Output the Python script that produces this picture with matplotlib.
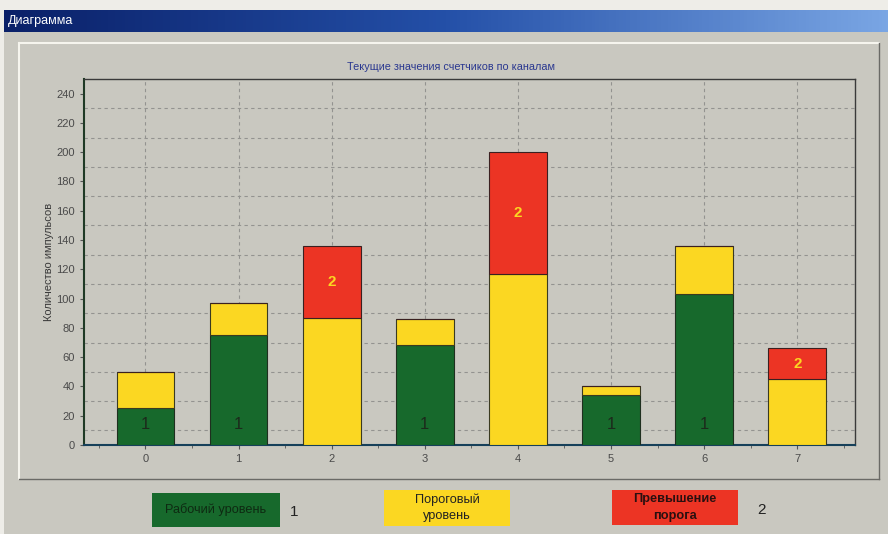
import matplotlib.pyplot as plt
import numpy as np
from matplotlib.patches import Rectangle
from matplotlib.ticker import MultipleLocator
from matplotlib.colors import LinearSegmentedColormap

channels = ['0', '1', '2', '3', '4', '5', '6', '7']
working = [25, 75, 0, 68, 0, 34, 103, 0]
threshold = [25, 22, 87, 18, 117, 6, 33, 45]
over = [0, 0, 49, 0, 83, 0, 0, 21]

legend_labels = ['Рабочий уровень', 'Пороговый\nуровень', 'Превышение\nпорога']

plt.rcParams['font.family'] = ['Liberation Sans', 'DejaVu Sans']

W, H = 888, 534
bg = '#c9c8c0'
green = '#17692c'
yellow = '#fbd722'
red = '#ec3424'


def fx(px):
    return px / W


def fy(py):
    return 1 - py / H


fig = plt.figure(figsize=(W / 100, H / 100), dpi=100)
fig.patch.set_facecolor(bg)

# light strips at window top and left
fig.patches.append(Rectangle((0, fy(10)), 1, 10 / H, transform=fig.transFigure,
                             facecolor='#eeede8', edgecolor='none', zorder=-5))
fig.patches.append(Rectangle((0, 0), fx(4), 1, transform=fig.transFigure,
                             facecolor='#eeede8', edgecolor='none', zorder=-5))

# title bar with gradient
tb = fig.add_axes([fx(4), fy(32), 1 - fx(4), (32 - 10) / H])
grad = np.linspace(0, 1, 256).reshape(1, -1)
cm = LinearSegmentedColormap.from_list('tb', ['#0a2068', '#2450a8', '#7aa6e4'])
tb.imshow(grad, aspect='auto', cmap=cm, extent=[0, 1, 0, 1])
tb.set_axis_off()
tb.text(0.004, 0.5, 'Диаграмма', color='white', fontsize=9, va='center', ha='left',
        transform=tb.transAxes)

# inner panel border
fig.add_artist(plt.Line2D([fx(19), fx(879)], [fy(43), fy(43)], color='#f6f5ee', lw=1.5))
fig.add_artist(plt.Line2D([fx(19), fx(19)], [fy(43), fy(479)], color='#f6f5ee', lw=1.5))
fig.add_artist(plt.Line2D([fx(879), fx(879)], [fy(43), fy(479)], color='#6a6a66', lw=1))
fig.add_artist(plt.Line2D([fx(19), fx(879)], [fy(479), fy(479)], color='#6a6a66', lw=1))

# main chart
ax = fig.add_axes([fx(84), fy(445), fx(855 - 84), (445 - 79) / H])
ax.set_facecolor(bg)
x = np.arange(len(channels))
w = 0.62
ax.bar(x, working, w, color=green, edgecolor='#1f2f1f', linewidth=0.8, zorder=3)
ax.bar(x, threshold, w, bottom=working, color=yellow, edgecolor='#3a3a20', linewidth=0.8, zorder=3)
bottoms = np.array(working) + np.array(threshold)
ax.bar(x, over, w, bottom=bottoms, color=red, edgecolor='#3a2020', linewidth=0.8, zorder=3)

for i in range(len(channels)):
    if working[i] > 0:
        ax.text(x[i], 14, '1', ha='center', va='center', fontsize=12, color='#1c2a1c', zorder=4)
    if over[i] > 0:
        ax.text(x[i], bottoms[i] + over[i] / 2, '2', ha='center', va='center', fontsize=11,
                color=yellow, fontweight='bold', zorder=4)

ax.set_xlim(-0.66, 7.62)
ax.set_ylim(0, 250)
ax.set_xticks(x)
ax.set_xticklabels(channels)
ax.xaxis.set_minor_locator(MultipleLocator(0.5))
ax.yaxis.set_major_locator(MultipleLocator(20))
ax.set_yticks(np.arange(10, 240, 20), minor=True)
ax.tick_params(axis='both', which='major', labelsize=8, labelcolor='#4a4a4a', color='#555555',
               length=3)
ax.tick_params(axis='x', which='minor', length=2, color='#555555')
ax.tick_params(axis='y', which='minor', length=0)
ax.grid(True, axis='x', which='major', linestyle=(0, (3, 3)), color='#939390', lw=0.8, zorder=1)
ax.grid(True, axis='y', which='minor', linestyle=(0, (3, 3)), color='#939390', lw=0.8, zorder=1)
ax.grid(False, axis='y', which='major')
for s in ['top', 'right']:
    ax.spines[s].set_color('#3a3a3a')
    ax.spines[s].set_linewidth(1)
ax.spines['left'].set_color('#1f3a25')
ax.spines['left'].set_linewidth(1.5)
ax.spines['bottom'].set_color('#16405a')
ax.spines['bottom'].set_linewidth(1.5)
ax.set_ylabel('Количество импульсов', fontsize=8, color='#3a3a3a', labelpad=2)
ax.text(0.476, 1.033, 'Текущие значения счетчиков по каналам', transform=ax.transAxes,
        ha='center', va='center', fontsize=7.8, color='#2a3890')

# legend boxes
boxes = [(152, 493, 280, 527, green, '#0e2a12', 'normal'),
         (384, 490, 510, 526, yellow, '#222222', 'normal'),
         (612, 490, 738, 525, red, '#2a1010', 'bold')]
for (x0, y0, x1, y1, c, tc, fw), lab in zip(boxes, legend_labels):
    fig.patches.append(Rectangle((fx(x0), fy(y1)), fx(x1 - x0), (y1 - y0) / H,
                                 transform=fig.transFigure, facecolor=c, edgecolor='none'))
    fig.text(fx((x0 + x1) / 2), fy((y0 + y1) / 2), lab, ha='center', va='center',
             fontsize=9.2, color=tc, fontweight=fw, linespacing=1.45)
fig.text(fx(294), fy(512), '1', ha='center', va='center', fontsize=11, color='#222222')
fig.text(fx(761), fy(510), '2', ha='center', va='center', fontsize=11, color='#222222')

fig.savefig('out.png', dpi=100, facecolor=fig.get_facecolor())
